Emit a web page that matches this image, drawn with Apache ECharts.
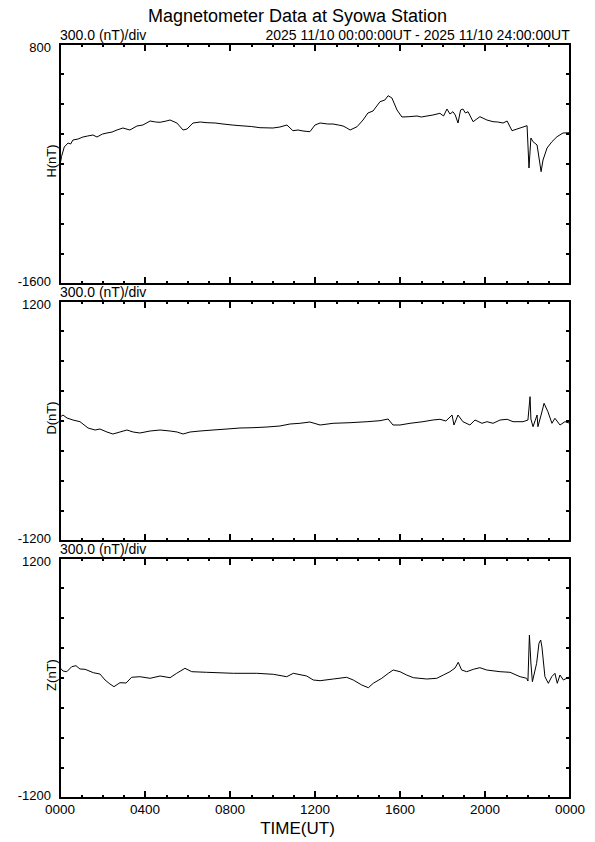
<!DOCTYPE html>
<html>
<head>
<meta charset="utf-8">
<script src="https://cdn.jsdelivr.net/npm/echarts@6/dist/echarts.min.js"></script>
<style>
html,body{margin:0;padding:0;background:#fff;}
#c{width:595px;height:842px;}
</style>
</head>
<body>
<div id="c"></div>
<script>
// ---- data (time in hours UT, values in nT) ----
const hTime = [0.03,0.07,0.2,0.38,0.5,0.61,0.85,1.08,1.3,1.55,1.74,2.0,2.21,2.45,2.68,2.96,3.29,3.62,3.9,4.24,4.5,4.71,5.0,5.18,5.5,5.79,5.98,6.26,6.6,6.92,7.3,7.67,8.1,8.47,9.0,9.41,10.02,10.35,10.68,10.96,11.2,11.44,11.76,12.0,12.24,12.6,12.85,13.1,13.32,13.5,13.65,13.98,14.26,14.49,14.73,15.06,15.29,15.44,15.62,15.86,16.09,16.42,16.8,17.0,17.27,17.55,17.88,18.05,18.21,18.35,18.49,18.6,18.73,18.85,18.96,19.08,19.2,19.44,19.76,20.09,20.38,20.6,20.85,21.04,21.27,21.65,21.98,22.07,22.16,22.26,22.45,22.64,22.73,22.92,23.15,23.39,23.67,24.0];
const hVal  = [-377,-327,-230,-190,-200,-160,-150,-130,-120,-110,-130,-100,-90,-80,-60,-40,-60,-20,-10,30,20,17,30,40,10,-60,-50,10,20,13,10,0,-10,-17,-25,-37,-40,-30,-10,-67,-60,-70,-77,-10,10,0,0,-10,-20,-40,-60,-27,40,110,130,223,240,283,260,140,70,73,80,70,80,90,107,80,150,100,123,90,10,140,150,110,123,23,73,40,23,20,10,30,-67,-40,-17,-440,-140,-177,-210,-477,-360,-240,-177,-127,-90,-87];

const dTime = [0.03,0.14,0.33,0.61,0.94,1.32,1.65,1.88,2.21,2.49,2.82,3.15,3.44,3.76,4.24,4.71,5.18,5.51,5.79,6.12,6.59,7.2,7.86,8.47,9.08,9.74,10.35,10.82,11.29,11.76,12.24,12.85,13.65,14.45,15.06,15.44,15.67,16.0,16.47,17.08,17.55,17.88,18.16,18.45,18.54,18.73,18.96,19.29,19.53,19.86,20.09,20.38,20.71,21.04,21.32,21.79,22.02,22.12,22.16,22.26,22.45,22.49,22.64,22.78,22.96,23.15,23.29,23.53,23.76,24.0];
const dVal  = [43,60,30,10,-7,-70,-90,-80,-110,-130,-110,-90,-110,-120,-100,-90,-100,-110,-130,-110,-100,-90,-80,-70,-67,-60,-50,-30,-23,-10,-40,-23,-17,-7,3,20,-40,-40,-23,-7,10,17,0,60,-40,60,-7,-40,10,-23,-7,-23,10,17,-7,-7,10,243,20,-57,60,-57,60,177,93,-23,27,-40,-7,-23];

const zTime = [0.03,0.14,0.32,0.55,0.75,0.94,1.18,1.57,1.88,2.12,2.35,2.54,2.82,3.11,3.37,3.76,4.24,4.71,5.18,5.49,5.88,6.2,6.9,8.16,9.26,10.04,10.67,10.98,11.61,11.92,12.24,12.86,13.49,13.8,14.2,14.51,14.74,15.14,15.45,15.68,16.0,16.31,16.63,17.26,17.73,18.04,18.35,18.59,18.74,18.9,19.14,19.45,19.76,20.08,20.71,21.18,21.65,21.96,22.02,22.09,22.16,22.23,22.43,22.54,22.62,22.68,22.82,22.98,23.14,23.29,23.4,23.53,23.69,23.84,24.0];
const zVal  = [97,70,63,113,123,90,87,53,40,-20,-60,-87,-47,-50,7,13,-3,20,3,47,97,63,57,47,47,37,13,47,20,-20,-27,-10,7,-20,-70,-97,-53,-3,47,80,63,30,3,-10,-3,30,63,100,157,80,63,87,103,80,63,57,13,-3,-30,430,150,-37,147,347,380,310,13,-53,13,47,-53,30,-20,-3,13];

const hRange = [-1600, 800];
const dRange = [-1200, 1200];
const zRange = [-1200, 1200];
const stepNT = 300;
const xTickLabels = ['0000','0400','0800','1200','1600','2000','0000'];

const titleText = 'Magnetometer Data at Syowa Station';
const scaleText = '300.0 (nT)/div';
const periodText = '2025 11/10 00:00:00UT - 2025 11/10 24:00:00UT';
const panelNames = ['H(nT)','D(nT)','Z(nT)'];
const xName = 'TIME(UT)';

// ---- chart ----
const FONT = '"Liberation Sans", Arial, Helvetica, sans-serif';
const zip = (t, v) => t.map((x, i) => [x, v[i]]);
const ticksFor = r => { const a = []; for (let v = r[0]; v <= r[1]; v += stepNT) a.push(v); return a; };

const gridTops = [44, 301, 558];
const GH = 240;
const ranges = [hRange, dRange, zRange];
const datas = [zip(hTime, hVal), zip(dTime, dVal), zip(zTime, zVal)];

const grids = [], xAxes = [], yAxes = [], series = [];
const lineStyle = { color: '#000', width: 2 };
gridTops.forEach((top, i) => {
  grids.push({ left: 60, right: 25, top: top, height: GH, containLabel: false, outerBoundsMode: 'none' });
  const baseX = {
    gridIndex: i, type: 'value', min: 0, max: 24, interval: 4,
    axisLine: { show: true, onZero: false, lineStyle },
    axisTick: { show: true, inside: true, length: 7, lineStyle: { color: '#000', width: 2 } },
    minorTick: { show: true, splitNumber: 4, length: 3, lineStyle: { color: '#000', width: 2 } },
    splitLine: { show: false }, minorSplitLine: { show: false }
  };
  xAxes.push(Object.assign({}, baseX, {
    position: 'bottom',
    axisLabel: i === 2 ? {
      show: true, margin: 4, color: '#000', fontFamily: FONT, fontSize: 13.5,
      formatter: v => xTickLabels[Math.round(v / 4)]
    } : { show: false }
  }));
  xAxes.push(Object.assign({}, baseX, { position: 'top', axisLabel: { show: false } }));
  const r = ranges[i];
  const baseY = {
    gridIndex: i, type: 'value', min: r[0], max: r[1],
    axisLine: { show: true, onZero: false, lineStyle },
    axisTick: { show: true, inside: true, length: 4, customValues: ticksFor(r), lineStyle: { color: '#000', width: 2 } },
    splitLine: { show: false }
  };
  yAxes.push(Object.assign({}, baseY, {
    position: 'left',
    axisLabel: {
      show: true, margin: 9, color: '#000', fontFamily: FONT, fontSize: 13,
      customValues: [r[0], r[1]],
      formatter: v => (v === r[1] ? '{t|' + v + '}' : '{b|' + v + '}'),
      rich: { t: { padding: [6, 0, 0, 0], fontSize: 13, fontFamily: FONT, color: '#000' },
              b: { padding: [0, 0, 6, 0], fontSize: 13, fontFamily: FONT, color: '#000' } }
    }
  }));
  yAxes.push(Object.assign({}, baseY, { position: 'right', axisLabel: { show: false } }));
  series.push({
    type: 'line', xAxisIndex: 2 * i, yAxisIndex: 2 * i, data: datas[i],
    showSymbol: false, symbol: 'none', animation: false,
    lineStyle: { color: '#000', width: 1 }
  });
});

const graphics = [
  { type: 'text', left: 'center', top: 7, style: { text: titleText, fill: '#000', font: '18px ' + FONT } }
];
gridTops.forEach((top, i) => {
  graphics.push({ type: 'text', left: 60, top: top - 16, style: { text: scaleText, fill: '#000', font: '14px ' + FONT } });
  graphics.push({
    type: 'text', x: 51, y: top + GH / 2 - 3, rotation: Math.PI / 2,
    style: { text: panelNames[i], fill: '#000', font: '13px ' + FONT, align: 'center', verticalAlign: 'middle' }
  });
});
graphics.push({ type: 'text', right: 25, top: gridTops[0] - 16, style: { text: periodText, fill: '#000', font: '14px ' + FONT } });
graphics.push({ type: 'text', left: 'center', top: 820, style: { text: xName, fill: '#000', font: '17px ' + FONT } });

const chart = echarts.init(document.getElementById('c'), null, { renderer: 'svg' });
chart.setOption({
  backgroundColor: '#fff',
  animation: false,
  grid: grids, xAxis: xAxes, yAxis: yAxes, series: series,
  graphic: graphics
});
</script>
</body>
</html>
